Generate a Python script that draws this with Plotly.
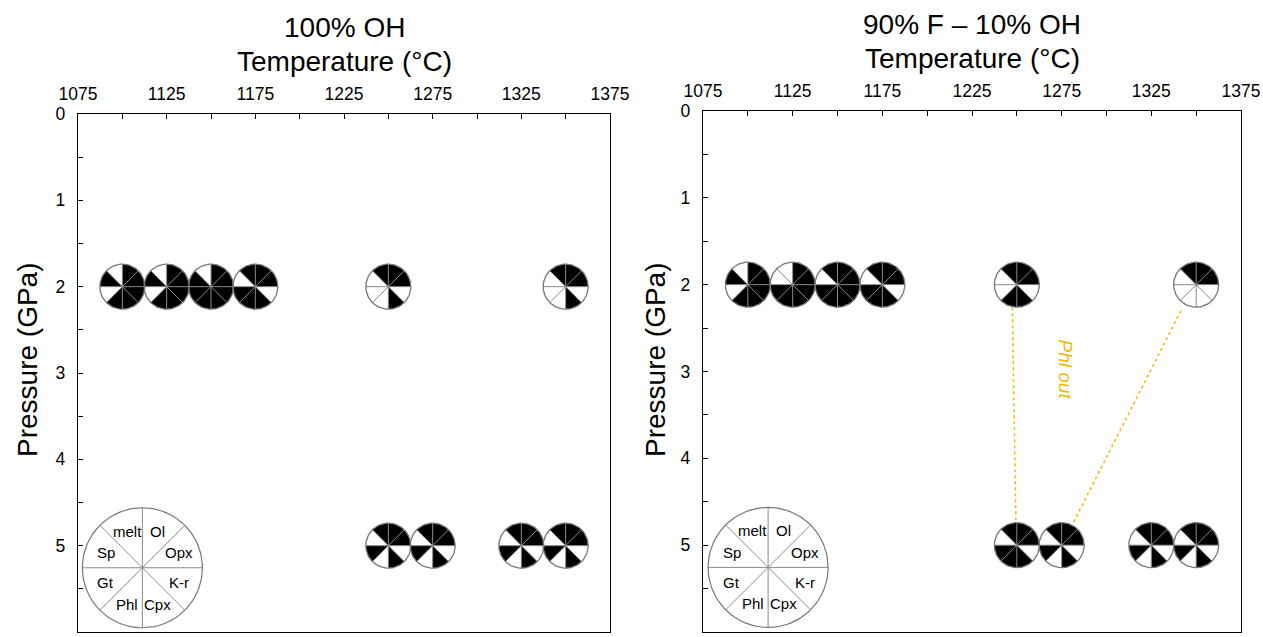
import numpy as np
import plotly.graph_objects as go

W, H = 1263, 637
FONT = "Liberation Sans, Arial, sans-serif"

# sectors clockwise from 12 o'clock
PHASES = ["Ol", "Opx", "K-r", "Cpx", "Phl", "Gt", "Sp", "melt"]

# ---- 100% OH experiments ----
oh_T = [1100, 1125, 1150, 1175, 1250, 1350, 1250, 1275, 1325, 1350]
oh_P = [2, 2, 2, 2, 2, 2, 5, 5, 5, 5]
oh_present = [
    [1, 1, 1, 1, 1, 0, 1, 0],
    [1, 1, 1, 1, 1, 0, 1, 0],
    [1, 1, 1, 1, 1, 1, 1, 0],
    [1, 1, 0, 1, 1, 1, 0, 1],
    [1, 1, 0, 1, 0, 0, 0, 1],
    [1, 1, 0, 1, 0, 0, 0, 1],
    [1, 1, 0, 1, 0, 1, 0, 1],
    [1, 1, 0, 1, 0, 1, 0, 1],
    [1, 1, 0, 1, 0, 1, 0, 1],
    [1, 1, 0, 1, 0, 1, 0, 1],
]

# ---- 90% F - 10% OH experiments ----
f_T = [1100, 1125, 1150, 1175, 1250, 1350, 1250, 1275, 1325, 1350]
f_P = [2, 2, 2, 2, 2, 2, 5, 5, 5, 5]
f_present = [
    [1, 1, 1, 1, 1, 0, 1, 0],
    [1, 1, 1, 1, 1, 1, 0, 0],
    [1, 1, 1, 1, 1, 1, 0, 1],
    [1, 1, 0, 1, 1, 1, 0, 1],
    [1, 1, 0, 1, 1, 0, 0, 1],
    [1, 1, 0, 0, 0, 0, 0, 1],
    [1, 1, 0, 1, 1, 1, 0, 1],
    [1, 1, 0, 1, 0, 1, 0, 1],
    [1, 1, 0, 1, 0, 1, 0, 1],
    [1, 1, 0, 1, 0, 1, 0, 1],
]

# Phl-out boundary (dotted lines) in right panel
phl_out_T = [[1247.5, 1249.5], [1341.5, 1281.5]]
phl_out_P = [[2.26, 4.74], [2.30, 4.74]]
phl_label_T, phl_label_P = 1277, 2.98

T_RANGE = [1075, 1375]
P_RANGE = [6, 0]
x_tickvals = list(range(1075, 1376, 25))
x_ticktext = [str(v) if (v - 1075) % 50 == 0 else "" for v in x_tickvals]
y_tickvals = [i * 0.5 for i in range(13)]
y_ticktext = [str(int(v)) if v == int(v) else "" for v in y_tickvals]


def px_x(p):
    return p / W


def px_y(p):
    return 1 - p / H


# layout (pixel positions as seen on the page)
panels = [
    dict(xd=[px_x(78), px_x(610)], yd=[px_y(632), px_y(114)], title="100% OH",
         t1y=28, t2y=62, ylab_x=27, T=oh_T, P=oh_P, pres=oh_present),
    dict(xd=[px_x(703), px_x(1241)], yd=[px_y(632), px_y(111)], title="90% F \u2013 10% OH",
         t1y=24, t2y=58, ylab_x=655, T=f_T, P=f_P, pres=f_present),
]

PIE_R = 22.5
LEG_R = 60
LEG_FX, LEG_FY = 0.121, 0.876
GRAY = "#8a8a8a"

fig = go.Figure()
layout = dict(width=W, height=H, margin=dict(l=0, r=0, t=0, b=0, autoexpand=False),
              paper_bgcolor="white", plot_bgcolor="white", showlegend=False,
              hovermode=False, annotations=[])


def pie_fill(cx, cy, rx, ry, present):
    xs, ys = [cx], [cy]
    for k, on in enumerate(present):
        if on:
            a = np.radians(np.linspace(45 * k, 45 * (k + 1), 16))
            xs += list(cx + rx * np.sin(a)) + [cx]
            ys += list(cy - ry * np.cos(a)) + [cy]
    return xs, ys


def pie_lines(cx, cy, rx, ry):
    lx, ly = [], []
    for k in range(8):
        a = np.radians(45 * k)
        lx += [cx, cx + rx * np.sin(a), None]
        ly += [cy, cy - ry * np.cos(a), None]
    a = np.radians(np.linspace(0, 360, 97))
    cxs = list(cx + rx * np.sin(a)) + [None]
    cys = list(cy - ry * np.cos(a)) + [None]
    return lx, ly, cxs, cys


for i, pn in enumerate(panels):
    xa = "xaxis" if i == 0 else "xaxis2"
    ya = "yaxis" if i == 0 else "yaxis2"
    xr = "x" if i == 0 else "x2"
    yr = "y" if i == 0 else "y2"
    sx = (pn["xd"][1] - pn["xd"][0]) * W / (T_RANGE[1] - T_RANGE[0])
    sy = (pn["yd"][1] - pn["yd"][0]) * H / (P_RANGE[0] - P_RANGE[1])

    layout[xa] = dict(domain=pn["xd"], range=T_RANGE, side="top", anchor=yr,
                      tickmode="array", tickvals=x_tickvals, ticktext=x_ticktext,
                      ticks="inside", ticklen=5, tickwidth=1, tickcolor="black",
                      showline=True, linecolor="black", linewidth=1.2, mirror=True,
                      showgrid=False, zeroline=False, ticklabelstandoff=6,
                      automargin=False,
                      tickfont=dict(family=FONT, size=17.5, color="black"))
    layout[ya] = dict(domain=pn["yd"], range=P_RANGE, anchor=xr,
                      tickmode="array", tickvals=y_tickvals, ticktext=y_ticktext,
                      ticks="inside", ticklen=5, tickwidth=1, tickcolor="black",
                      showline=True, linecolor="black", linewidth=1.2, mirror=True,
                      showgrid=False, zeroline=False, ticklabelstandoff=8,
                      automargin=False,
                      tickfont=dict(family=FONT, size=17.5, color="black"))

    rx, ry = PIE_R / sx, PIE_R / sy
    LX, LY, CX, CY = [], [], [], []
    for t, p, pres in zip(pn["T"], pn["P"], pn["pres"]):
        fx, fy = pie_fill(t, p, rx, ry, pres)
        fig.add_trace(go.Scatter(x=fx, y=fy, mode="lines", fill="toself", fillcolor="black",
                                 line=dict(width=0, color="black"), xaxis=xr, yaxis=yr))
        lx, ly, cxs, cys = pie_lines(t, p, rx, ry)
        LX += lx; LY += ly; CX += cxs; CY += cys
    fig.add_trace(go.Scatter(x=LX, y=LY, mode="lines", line=dict(width=1, color=GRAY),
                             xaxis=xr, yaxis=yr))
    fig.add_trace(go.Scatter(x=CX, y=CY, mode="lines", line=dict(width=1.3, color="#777777"),
                             xaxis=xr, yaxis=yr))

    # key pie
    lcx = T_RANGE[0] + LEG_FX * (T_RANGE[1] - T_RANGE[0])
    lcy = P_RANGE[1] + LEG_FY * (P_RANGE[0] - P_RANGE[1])
    lx, ly, cxs, cys = pie_lines(lcx, lcy, LEG_R / sx, LEG_R / sy)
    fig.add_trace(go.Scatter(x=lx, y=ly, mode="lines", line=dict(width=1, color=GRAY),
                             xaxis=xr, yaxis=yr))
    fig.add_trace(go.Scatter(x=cxs, y=cys, mode="lines", line=dict(width=1.2, color="#777777"),
                             xaxis=xr, yaxis=yr))
    for k, name in enumerate(PHASES):
        a = np.radians(45 * k + 22.5)
        rr = 0.66 * LEG_R
        layout["annotations"].append(dict(
            x=lcx + rr / sx * np.sin(a), y=lcy - rr / sy * np.cos(a), xref=xr, yref=yr,
            xanchor="center", yanchor="middle",
            text=name, showarrow=False, font=dict(family=FONT, size=15, color="black")))

    xc = (pn["xd"][0] + pn["xd"][1]) / 2
    layout["annotations"].append(dict(x=xc, y=px_y(pn["t1y"]), xref="paper", yref="paper",
                                      xanchor="center", yanchor="middle",
                                      text=pn["title"], showarrow=False,
                                      font=dict(family=FONT, size=28, color="black")))
    layout["annotations"].append(dict(x=xc, y=px_y(pn["t2y"]), xref="paper", yref="paper",
                                      xanchor="center", yanchor="middle",
                                      text="Temperature (\u00b0C)", showarrow=False,
                                      font=dict(family=FONT, size=28, color="black")))
    layout["annotations"].append(dict(x=px_x(pn["ylab_x"]), y=px_y(360), xref="paper", yref="paper",
                                      xanchor="center", yanchor="middle",
                                      text="Pressure (GPa)", textangle=-90, showarrow=False,
                                      font=dict(family=FONT, size=28, color="black")))

# Phl out lines (right panel)
for tt, pp in zip(phl_out_T, phl_out_P):
    fig.add_trace(go.Scatter(x=tt, y=pp, mode="lines", xaxis="x2", yaxis="y2",
                             line=dict(color="#F5B800", width=1.5, dash="dot")))
layout["annotations"].append(dict(x=phl_label_T, y=phl_label_P, xref="x2", yref="y2",
                                  xanchor="center", yanchor="middle",
                                  text="<i>Phl out</i>", textangle=90, showarrow=False,
                                  font=dict(family=FONT, size=19, color="#F5B800")))

fig.update_layout(**layout)
fig.write_html(
    "out.html",
    config={"displayModeBar": False, "staticPlot": True},
    post_script=("document.body.style.margin='0';"
                 "document.body.style.overflow='hidden';"
                 "document.documentElement.style.overflow='hidden';"),
)
